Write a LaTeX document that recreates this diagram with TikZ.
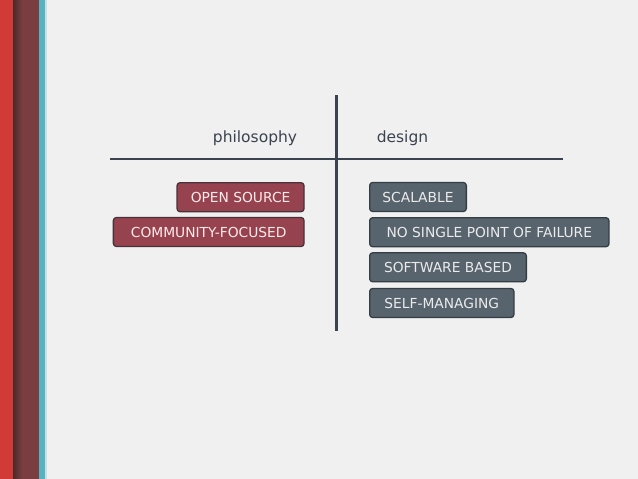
\documentclass[tikz,border=0pt]{standalone}
\usepackage{fontspec}
\setmainfont{DejaVu Sans}
\usetikzlibrary{positioning}
\definecolor{bgcol}{HTML}{F0F0F0}
\definecolor{inkcol}{HTML}{3A4350}
\definecolor{stripered}{HTML}{D03B37}
\definecolor{stripebrown}{HTML}{7A3E41}
\definecolor{stripedark}{HTML}{4A2A2C}
\definecolor{stripecyan}{HTML}{56B3C2}
\definecolor{redbox}{HTML}{97434F}
\definecolor{redboxline}{HTML}{48323A}
\definecolor{greybox}{HTML}{58646D}
\definecolor{greyboxline}{HTML}{343C44}

\begin{document}
\begin{tikzpicture}[x=1pt, y=-1pt, line cap=round, line join=round,
	tag/.style={rounded corners=3pt, line width=1.3pt, minimum height=29pt,
		inner sep=0pt, font=\fontsize{13.8}{16}\selectfont},
	philtag/.style={tag, fill=redbox, draw=redboxline, text=red!8!white, anchor=east},
	designtag/.style={tag, fill=greybox, draw=greyboxline, text=white!92!black, anchor=west},
	header/.style={text=inkcol, font=\fontsize{15.5}{18}\selectfont}]

% ===== background and left stripes =====
\fill[bgcol] (0,0) rectangle (638,479);
\useasboundingbox (0,0) rectangle (638,479);
\fill[stripered] (0,0) rectangle (13,479);
\shade[left color=stripedark, right color=stripebrown] (13,0) rectangle (22,479);
\fill[stripebrown] (22,0) rectangle (39,479);
\fill[stripecyan] (39,0) rectangle (45,479);
\fill[stripecyan!25!bgcol] (45,0) rectangle (47,479);

% ===== axes =====
\coordinate (hl) at (110,159);
\coordinate (hr) at (563,159);
\coordinate (vt) at (336.5,95);
\coordinate (vb) at (336.5,331);
\draw[inkcol, line width=2.1pt, line cap=butt] (hl) -- (hr);
\draw[inkcol, line width=2.1pt, line cap=butt] (vt) -- (vb);

\node[header] (philosophy) at (255,138) {philosophy};
\node[header] (design) at (402.5,138) {design};

% ===== philosophy tags =====
\node[philtag, minimum width=127pt] (opensource) at (304.7,197.2) {OPEN SOURCE};
\node[philtag, minimum width=190.7pt] (community) at (304.7,232) {COMMUNITY-FOCUSED};

% ===== design tags =====
\node[designtag, minimum width=96.7pt] (scalable) at (369,197) {SCALABLE};
\node[designtag, minimum width=239.3pt] (nospof) at (369,232.2) {NO SINGLE POINT OF FAILURE};
\node[designtag, minimum width=156.7pt] (software) at (369,267.3) {SOFTWARE BASED};
\node[designtag, minimum width=144.3pt] (selfmanaging) at (369,303) {SELF-MANAGING};

\end{tikzpicture}
\end{document}
